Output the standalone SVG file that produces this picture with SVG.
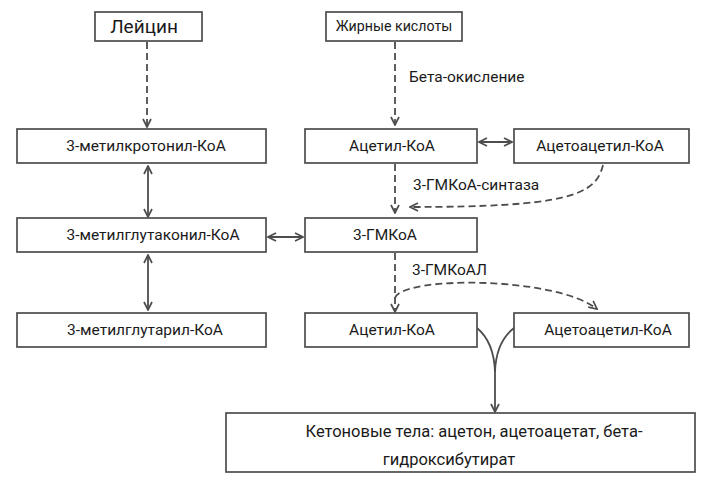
<svg xmlns="http://www.w3.org/2000/svg" width="711" height="492" viewBox="0 0 711 492">
<defs>
<marker id="arr" viewBox="0 0 10 10" refX="9" refY="5" markerWidth="10" markerHeight="10" markerUnits="userSpaceOnUse" orient="auto-start-reverse">
<path d="M1,1 L9,5 L1,9" fill="none" stroke="#4d4d4d" stroke-width="1.7"/>
</marker>
</defs>
<style>
.box{fill:#fff;stroke:#4d4d4d;stroke-width:1.7}
.t{font-family:Roboto,"Liberation Sans",sans-serif;font-size:15.5px;fill:#1a1a1a;text-anchor:middle}
.lbl{font-family:Roboto,"Liberation Sans",sans-serif;font-size:15.5px;fill:#1a1a1a}
.ln{fill:none;stroke:#4d4d4d;stroke-width:1.8}
.d{stroke-dasharray:7 4}
</style>
<rect width="711" height="492" fill="#fff"/>
<g id="connectors">
<path class="ln d" d="M147,42 V127" marker-end="url(#arr)"/>
<path class="ln" d="M148,166 V217" marker-start="url(#arr)" marker-end="url(#arr)"/>
<path class="ln" d="M148,255 V310" marker-start="url(#arr)" marker-end="url(#arr)"/>
<path class="ln" d="M268,237 H303" marker-start="url(#arr)" marker-end="url(#arr)"/>
<path class="ln d" d="M395,42 V125" marker-end="url(#arr)"/>
<path class="ln" d="M479,142 H512" marker-start="url(#arr)" marker-end="url(#arr)"/>
<path class="ln d" d="M395,164 V213" marker-end="url(#arr)"/>
<path class="ln d" d="M603,165 C596,196 565,207 410,207" marker-end="url(#arr)"/>
<path class="ln d" d="M395,253 V312" marker-end="url(#arr)"/>
<path class="ln d" d="M395,298 C402,276 555,276 597,309" marker-end="url(#arr)"/>
<path class="ln" d="M477,328 Q494,342 495,372 M514,328 Q496,342 495,372"/>
<path class="ln" d="M495,370 V412" marker-end="url(#arr)"/>
<text class="lbl" x="409" y="82">Бета-окисление</text>
<text class="lbl" x="413" y="190">3-ГМКоА-синтаза</text>
<text class="lbl" x="412" y="275">3-ГМКоАЛ</text>
</g>
<g id="leucine">
<rect class="box" x="95" y="12" width="107" height="29"/>
<text class="t" x="144" y="33" style="font-size:19px">Лейцин</text>
</g>
<g id="fatty-acids">
<rect class="box" x="326" y="12" width="136" height="29"/>
<text class="t" x="394" y="31" style="font-size:14.2px">Жирные кислоты</text>
</g>
<g id="methylcrotonyl">
<rect class="box" x="17" y="129" width="249" height="34"/>
<text class="t" x="146" y="151">3-метилкротонил-КоА</text>
</g>
<g id="methylglutaconyl">
<rect class="box" x="17" y="218" width="249" height="34"/>
<text class="t" x="153" y="240">3-метилглутаконил-КоА</text>
</g>
<g id="methylglutaryl">
<rect class="box" x="17" y="313" width="249" height="34"/>
<text class="t" x="145" y="335">3-метилглутарил-КоА</text>
</g>
<g id="acetyl1">
<rect class="box" x="305" y="129" width="172" height="34"/>
<text class="t" x="392" y="151">Ацетил-КоА</text>
</g>
<g id="acetoacetyl1">
<rect class="box" x="514" y="129" width="175" height="34"/>
<text class="t" x="600" y="151">Ацетоацетил-КоА</text>
</g>
<g id="hmgcoa">
<rect class="box" x="305" y="218" width="172" height="34"/>
<text class="t" x="385" y="240">3-ГМКоА</text>
</g>
<g id="acetyl2">
<rect class="box" x="305" y="313" width="172" height="34"/>
<text class="t" x="392" y="335">Ацетил-КоА</text>
</g>
<g id="acetoacetyl2">
<rect class="box" x="514" y="313" width="175" height="34"/>
<text class="t" x="608" y="335">Ацетоацетил-КоА</text>
</g>
<g id="ketone-bodies">
<rect class="box" x="226" y="413" width="469" height="59"/>
<text class="t" x="474" y="437" style="font-size:16.5px">Кетоновые тела: ацетон, ацетоацетат, бета-</text>
<text class="t" x="449" y="465" style="font-size:16.5px">гидроксибутират</text>
</g>
</svg>
